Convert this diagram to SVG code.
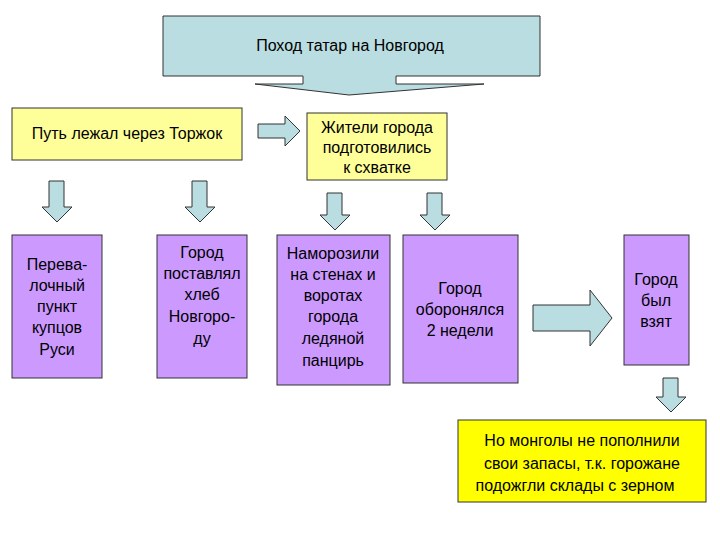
<svg xmlns="http://www.w3.org/2000/svg" width="720" height="540" viewBox="0 0 720 540">
<style>
.bl{fill:#B9DDE0;stroke:#333;stroke-width:1}
.ye{fill:#FFFF99;stroke:#333;stroke-width:1}
.pu{fill:#CC99FF;stroke:#333;stroke-width:1}
.yy{fill:#FFFF00;stroke:#333;stroke-width:1}
text{font-family:"Liberation Sans",Arial,sans-serif;font-size:16px;fill:#000;text-anchor:middle}
</style>
<rect width="720" height="540" fill="#fff"/>
<g id="top"><path class="bl" d="M163,16 H540 V76 H396 V84 H484 L349,95 L255,84 H303 V76 H163 Z"/>
<text x="350" y="51">Поход татар на Новгород</text></g>
<g id="y1"><rect class="ye" x="12" y="108" width="230" height="52"/><text x="127" y="139">Путь лежал через Торжок</text></g>
<g id="y2"><rect class="ye" x="307" y="113" width="140" height="67"/><text x="377" y="133">Жители города</text><text x="377" y="153">подготовились</text><text x="377" y="173">к схватке</text></g>
<g id="p1"><rect class="pu" x="12" y="235" width="90" height="143"/><text x="57" y="270">Перева-</text><text x="57" y="291">лочный</text><text x="57" y="312">пункт</text><text x="57" y="333">купцов</text><text x="57" y="355">Руси</text></g>
<g id="p2"><rect class="pu" x="157" y="235" width="90" height="143"/><text x="202" y="258">Город</text><text x="202" y="279">поставлял</text><text x="202" y="300">хлеб</text><text x="202" y="322">Новгоро-</text><text x="202" y="344">ду</text></g>
<g id="p3"><rect class="pu" x="277" y="235" width="113" height="150"/><text x="333" y="259">Наморозили</text><text x="333" y="280">на стенах и</text><text x="333" y="301">воротах</text><text x="333" y="322">города</text><text x="333" y="344">ледяной</text><text x="333" y="366">панцирь</text></g>
<g id="p4"><rect class="pu" x="403" y="235" width="115" height="148"/><text x="460" y="294">Город</text><text x="460" y="315">оборонялся</text><text x="460" y="336">2 недели</text></g>
<g id="p5"><rect class="pu" x="624" y="235" width="65" height="130"/><text x="656" y="285">Город</text><text x="656" y="306">был</text><text x="656" y="327">взят</text></g>
<g id="b"><rect class="yy" x="458" y="420" width="248" height="82"/><text x="582" y="446">Но монголы не пополнили</text><text x="582" y="469">свои запасы, т.к. горожане</text><text x="575" y="491">подожгли склады с зерном</text></g>
<g id="connectors">
<path class="bl" d="M258,124 H285 V116 L300,131 L285,146 V138 H258 Z"/>
<path class="bl" d="M49,181 H64 V207 H72 L57,222 L42,207 H49 Z"/>
<path class="bl" d="M192,181 H207 V207 H215 L200,222 L185,207 H192 Z"/>
<path class="bl" d="M327,193 H342 V215 H350 L335,230 L320,215 H327 Z"/>
<path class="bl" d="M427,193 H442 V215 H450 L435,230 L420,215 H427 Z"/>
<path class="bl" d="M663,378 H678 V397 H686 L671,412 L656,397 H663 Z"/>
<path class="bl" d="M533,305 H590 V290 L612,318 L590,346 V331 H533 Z"/>
</g>
</svg>
